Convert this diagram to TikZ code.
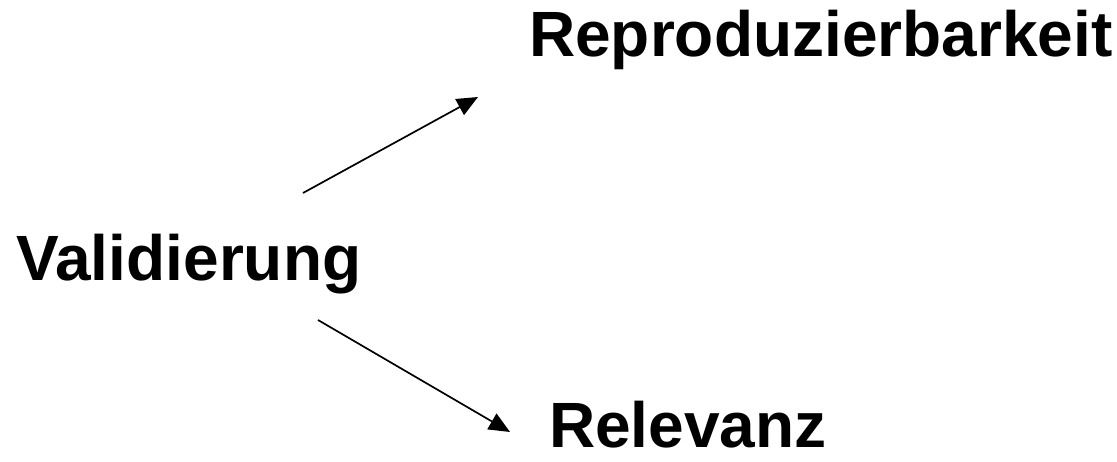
\documentclass[tikz,border=0pt]{standalone}
\usepackage{fontspec}
\setmainfont{Liberation Sans}
\usetikzlibrary{arrows.meta}
\begin{document}
\begin{tikzpicture}[x=1pt,y=1pt,
  word/.style={font=\fontsize{64}{64}\selectfont\bfseries, inner sep=0pt, anchor=base west},
  link/.style={line width=1.7pt, -{Triangle[length=21pt,width=18pt]}}]
  \useasboundingbox (0,0) rectangle (1117,462);
  \node[word] (rep) at (529,405) {Reproduzierbarkeit};
  \node[word] (val) at (16,181) {Validierung};
  \node[word] (rel) at (549,14) {Relevanz};
  \coordinate (a1) at (303,269);
  \coordinate (a2) at (478,365);
  \coordinate (b1) at (318,142);
  \coordinate (b2) at (510,30);
  \draw[link] (a1) -- (a2);
  \draw[link] (b1) -- (b2);
\end{tikzpicture}
\end{document}
